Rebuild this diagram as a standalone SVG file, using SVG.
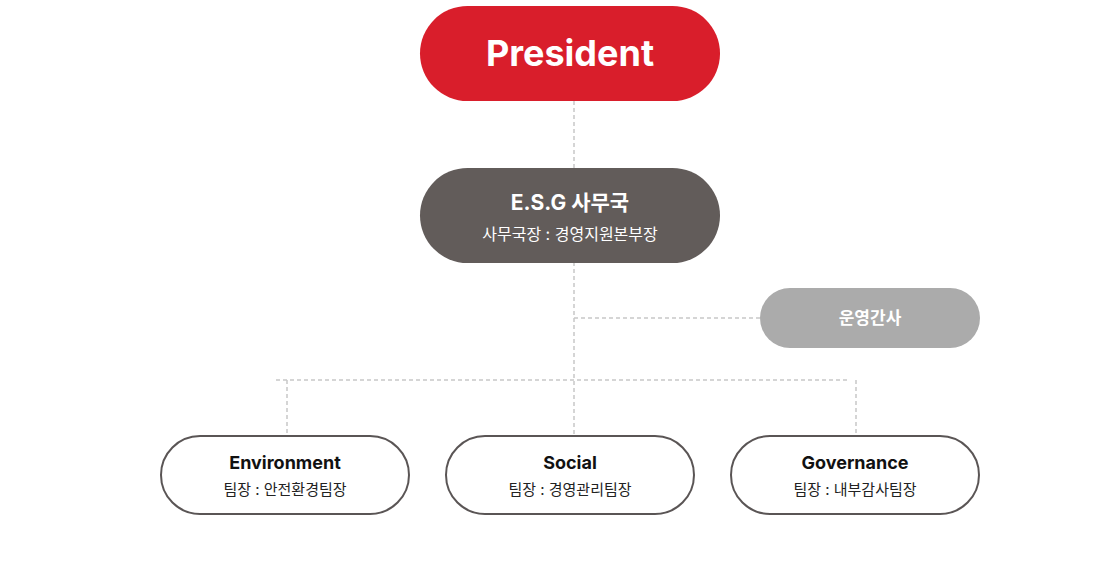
<svg xmlns="http://www.w3.org/2000/svg" width="1120" height="582" viewBox="0 0 1120 582">
<style>
text{font-family:"Inter","Noto Sans CJK KR",sans-serif;text-anchor:middle}
.c{fill:none;stroke:#c8c8c8;stroke-width:1.5;stroke-dasharray:4 3}
.b{fill:#fff;stroke:#5a5555;stroke-width:2}
.t{font-size:18px;font-weight:700;fill:#111}
.s{font-size:15px;fill:#222}
</style>
<rect width="1120" height="582" fill="#fff"/>
<g id="connectors">
<path class="c" d="M574 101V435M574 318H760M276 380H848M287 380V435M856 380V435"/>
</g>
<g id="president"><rect x="420" y="6" width="300" height="95" rx="47.5" fill="#d91e2b"/><text x="570" y="66" font-size="36" font-weight="700" fill="#fff">President</text></g>
<g id="esg"><rect x="420" y="168" width="300" height="95" rx="47.5" fill="#625c5a"/><text x="570" y="210" font-size="21" font-weight="700" fill="#fff">E.S.G 사무국</text><text x="570" y="240" font-size="16" fill="#fff">사무국장 : 경영지원본부장</text></g>
<g id="manager"><rect x="760" y="288" width="220" height="60" rx="30" fill="#ababab"/><text x="870" y="324" font-size="17" font-weight="700" fill="#fff">운영간사</text></g>
<g id="env"><rect class="b" x="161" y="436" width="248" height="78" rx="39"/><text class="t" x="285" y="469">Environment</text><text class="s" x="285" y="495">팀장 : 안전환경팀장</text></g>
<g id="social"><rect class="b" x="446" y="436" width="248" height="78" rx="39"/><text class="t" x="570" y="469">Social</text><text class="s" x="570" y="495">팀장 : 경영관리팀장</text></g>
<g id="gov"><rect class="b" x="731" y="436" width="248" height="78" rx="39"/><text class="t" x="855" y="469">Governance</text><text class="s" x="855" y="495">팀장 : 내부감사팀장</text></g>
</svg>
